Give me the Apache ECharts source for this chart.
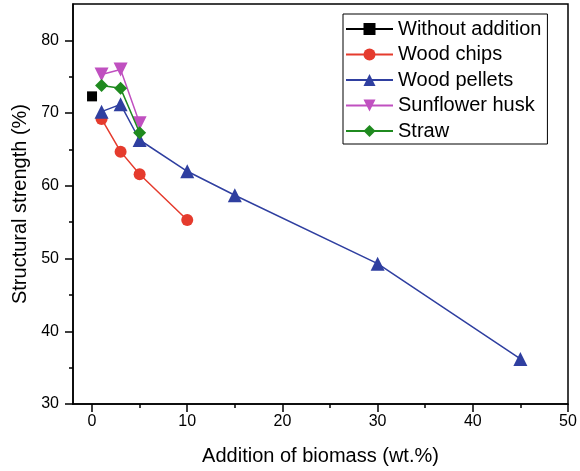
<!DOCTYPE html>
<html><head><meta charset="utf-8">
<script src="https://cdn.jsdelivr.net/npm/echarts@6/dist/echarts.min.js"></script>
<style>html,body{margin:0;padding:0;background:#fff}#c{width:580px;height:471px}</style>
</head><body><div id="c"></div>
<script>
const seriesNames = ['Without addition','Wood chips','Wood pellets','Sunflower husk','Straw'];
const xNone = [0];
const yNone = [72.3];
const xChips = [1,3,5,10];
const yChips = [69.2,64.7,61.6,55.3];
const xPellets = [1,3,5,10,15,30,45];
const yPellets = [70.2,71.2,66.3,62.0,58.7,49.3,36.2];
const xHusk = [1,3,5];
const yHusk = [75.3,76.0,68.6];
const xStraw = [1,3,5];
const yStraw = [73.8,73.4,67.3];
const xTicks = [0,10,20,30,40,50];
const xMinor = [5,15,25,35,45];
const yTicks = [30,40,50,60,70,80];
const yMinor = [35,45,55,65,75];

const FONT = 'Liberation Sans, Arial, sans-serif';
const zip = (xs, ys) => xs.map((x,i)=>[x, ys[i]]);
const colors = ['#000000','#e53b2d','#2f3fa0','#c050c0','#1f8a1f'];
const symbols = ['rect','circle','triangle','triangle','diamond'];
const rot = [0,0,0,180,0];
const sizes = [10,12,14,14,13];
const datas = [zip(xNone,yNone), zip(xChips,yChips), zip(xPellets,yPellets), zip(xHusk,yHusk), zip(xStraw,yStraw)];

const chart = echarts.init(document.getElementById('c'), null, {renderer:'canvas'});
chart.setOption({
  animation:false,
  backgroundColor:'#fff',
  grid:{left:73, right:12, top:4, bottom:67, show:true, borderColor:'#000', borderWidth:1.5, backgroundColor:'transparent'},
  legend:{
    orient:'vertical', left:343, top:14,
    data:seriesNames,
    itemWidth:47, itemHeight:15, itemGap:5.5,
    padding:[5,6,3,2],
    borderColor:'#000', borderWidth:1,
    textStyle:{fontFamily:FONT, fontSize:20, color:'#000', lineHeight:20}
  },
  xAxis:[{
    type:'value', min:-2, max:50,
    name:'Addition of biomass (wt.%)', nameLocation:'middle', nameGap:42,
    nameTextStyle:{fontFamily:FONT, fontSize:20, color:'#000'},
    axisLine:{show:true, onZero:false, lineStyle:{color:'#000', width:1.5}},
    axisTick:{show:true, inside:false, length:8, customValues:xTicks, lineStyle:{color:'#000', width:1.5}},
    axisLabel:{show:true, margin:10, customValues:xTicks, fontFamily:FONT, fontSize:16, color:'#000'},
    splitLine:{show:false}
  },{
    type:'value', min:-2, max:50, position:'bottom',
    axisLine:{show:false, onZero:false},
    axisTick:{show:true, length:4, customValues:xMinor, lineStyle:{color:'#000', width:1.5}},
    axisLabel:{show:false},
    splitLine:{show:false}
  }],
  yAxis:[{
    type:'value', min:30, max:85,
    name:'Structural strength (%)', nameLocation:'middle', nameGap:42,
    nameTextStyle:{fontFamily:FONT, fontSize:20, color:'#000'},
    axisLine:{show:true, onZero:false, lineStyle:{color:'#000', width:1.5}},
    axisTick:{show:true, inside:false, length:8, customValues:yTicks, lineStyle:{color:'#000', width:1.5}},
    axisLabel:{show:true, margin:14, customValues:yTicks, fontFamily:FONT, fontSize:16, color:'#000'},
    splitLine:{show:false}
  },{
    type:'value', min:30, max:85, position:'left',
    axisLine:{show:false, onZero:false},
    axisTick:{show:true, length:4, customValues:yMinor, lineStyle:{color:'#000', width:1.5}},
    axisLabel:{show:false},
    splitLine:{show:false}
  }],
  series: seriesNames.map((n,i)=>({
    name:n, type:'line', data:datas[i],
    xAxisIndex:0, yAxisIndex:0,
    symbol:symbols[i], symbolSize:sizes[i], symbolRotate:rot[i], showAllSymbol:true,
    itemStyle:{color:colors[i]},
    lineStyle:{color:colors[i], width:1.5},
    z:2+i
  }))
});
</script></body></html>
